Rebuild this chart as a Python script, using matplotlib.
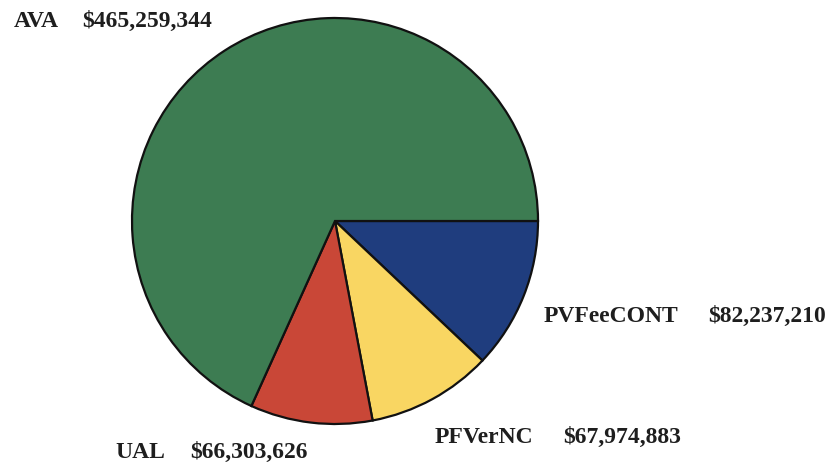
import matplotlib
matplotlib.use("Agg")
import matplotlib.pyplot as plt

# Data (order drawn clockwise starting at 3 o'clock)
labels = ["PVFeeCONT", "PFVerNC", "UAL", "AVA"]
values = [82237210, 67974883, 66303626, 465259344]
colors = ["#1f3d7e", "#f9d662", "#c94737", "#3d7c52"]

# label layout (pixel coords from top-left): name x, value x, baseline y
label_pos = {
    "AVA": (14, 82, 27),
    "PVFeeCONT": (544, 708, 322),
    "PFVerNC": (435, 563, 443),
    "UAL": (115, 190, 458),
}

W, H = 835, 474
fig = plt.figure(figsize=(W / 100, H / 100), dpi=100)
ax = fig.add_axes([0, 0, 1, 1])

cx, cy, r = 335, H - 221, 203
ax.pie(values, colors=colors, startangle=0, counterclock=False,
       center=(cx, cy), radius=r, frame=True,
       wedgeprops=dict(edgecolor="#111111", linewidth=1.6))
ax.set_xlim(0, W)
ax.set_ylim(0, H)
ax.set_aspect("equal")
ax.axis("off")

font = dict(family="Liberation Serif", fontweight="bold", fontsize=17,
            color="#1e1e1e", va="baseline", ha="left")
for name, val in zip(labels, values):
    nx, vx, by = label_pos[name]
    ax.text(nx, H - by, name, **font)
    ax.text(vx, H - by, f"${val:,}", **font)

fig.savefig("out.png", dpi=100, facecolor="white")
